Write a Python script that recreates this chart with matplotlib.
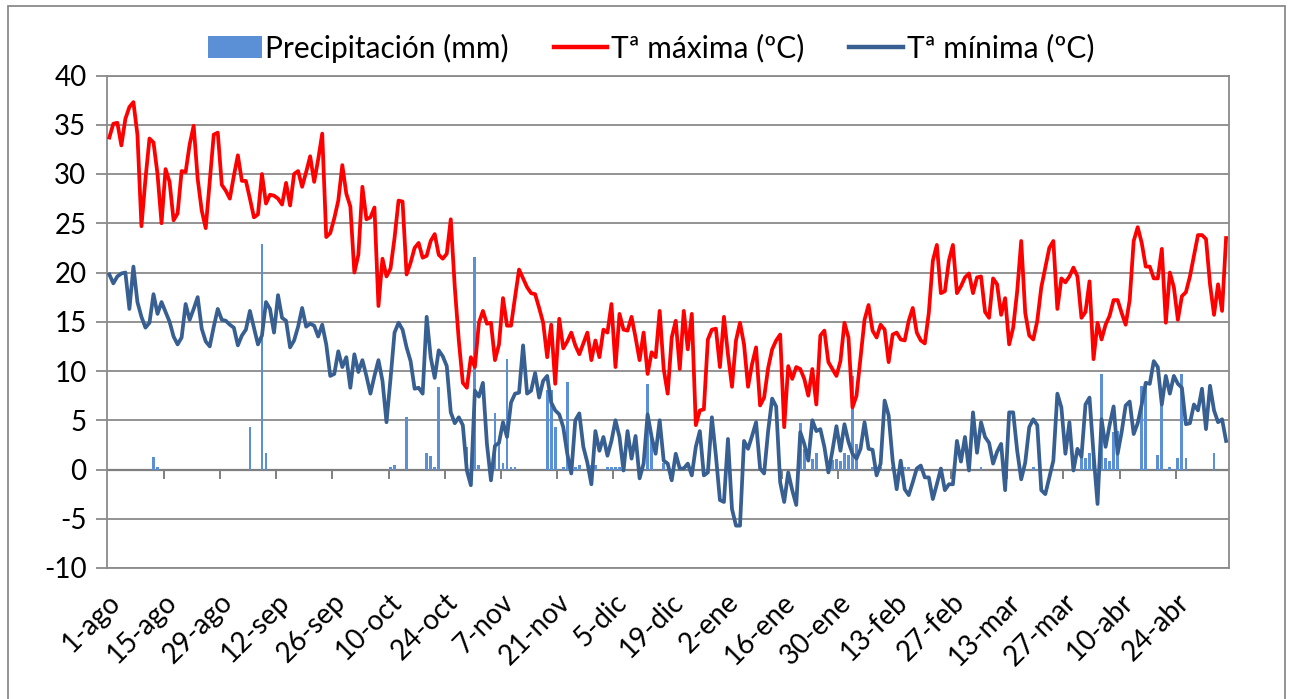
import matplotlib
matplotlib.use("Agg")
import matplotlib.pyplot as plt
import matplotlib.transforms as mtransforms
from matplotlib.patches import Rectangle, Patch
from matplotlib.lines import Line2D
import numpy as np

plt.rcParams['font.family'] = ['Lato', 'DejaVu Sans']

# Daily maximum temperature (ºC), 1-ago ... (279 days)
tmax = [
    33.7, 35.1, 35.2, 32.9, 35.6, 36.8, 37.3, 34.0, 24.7, 29.5,
    33.6, 33.2, 30.0, 25.0, 30.5, 29.2, 25.3, 26.0, 30.3, 30.2,
    33.0, 34.9, 29.5, 26.3, 24.5, 29.2, 34.0, 34.2, 28.9, 28.3,
    27.5, 29.8, 31.9, 29.3, 29.3, 27.5, 25.6, 25.9, 30.0, 27.0,
    27.9, 27.8, 27.5, 26.9, 29.1, 26.8, 30.0, 30.3, 28.7, 30.2,
    31.8, 29.2, 31.5, 34.1, 23.6, 24.0, 25.5, 27.3, 30.9, 28.0,
    26.7, 20.0, 21.8, 28.7, 25.4, 25.6, 26.6, 16.6, 21.4, 19.6,
    20.4, 23.5, 27.3, 27.2, 19.8, 21.0, 22.5, 23.0, 21.5, 21.7,
    23.2, 23.9, 21.8, 21.4, 21.9, 25.4, 18.5, 13.1, 8.8, 8.3,
    11.4, 10.4, 14.9, 16.1, 14.8, 14.9, 11.1, 12.7, 17.4, 14.6,
    14.6, 17.5, 20.3, 19.4, 18.5, 17.9, 17.8, 16.4, 14.9, 11.4,
    14.7, 8.7, 15.3, 12.3, 13.0, 13.9, 12.6, 11.7, 12.8, 13.9,
    11.1, 13.1, 11.4, 14.2, 13.9, 16.8, 10.4, 15.8, 14.2, 14.1,
    15.5, 13.4, 11.1, 13.9, 9.7, 11.9, 11.4, 16.1, 10.2, 7.7,
    13.4, 15.1, 10.2, 16.1, 12.2, 15.8, 4.5, 6.0, 6.1, 13.2,
    14.2, 14.3, 10.4, 15.5, 11.7, 8.4, 13.1, 14.9, 12.7, 8.4,
    10.7, 12.4, 6.5, 7.3, 10.3, 12.2, 13.1, 13.7, 4.3, 10.5,
    9.2, 10.4, 10.2, 9.2, 7.5, 10.2, 6.6, 13.6, 14.1, 10.9,
    10.2, 9.5, 11.0, 14.9, 13.4, 6.3, 7.5, 11.4, 15.2, 16.7,
    14.1, 13.4, 14.7, 14.2, 10.9, 13.7, 13.9, 13.2, 13.1, 15.1,
    16.4, 13.9, 13.1, 12.8, 15.9, 21.2, 22.8, 17.9, 18.1, 21.2,
    22.8, 17.9, 18.6, 19.5, 19.9, 17.9, 19.5, 19.6, 16.0, 15.4,
    19.4, 18.8, 15.7, 17.4, 12.7, 14.4, 18.1, 23.2, 15.9, 13.6,
    13.2, 15.1, 18.5, 20.5, 22.5, 23.2, 16.3, 19.4, 19.0, 19.6,
    20.5, 19.6, 15.4, 16.0, 19.1, 11.2, 14.9, 13.2, 14.7, 15.6,
    17.2, 17.2, 15.9, 14.7, 17.2, 23.2, 24.6, 23.0, 20.6, 20.6,
    19.4, 19.4, 22.4, 14.9, 20.0, 18.5, 15.2, 17.6, 18.0, 19.6,
    21.7, 23.8, 23.8, 23.4, 18.8, 15.7, 18.8, 16.1, 23.5,
]

# Daily minimum temperature (ºC)
tmin = [
    19.8, 18.9, 19.6, 19.9, 20.0, 16.3, 20.6, 17.0, 15.5, 14.4,
    14.9, 17.8, 15.8, 17.0, 16.0, 15.0, 13.5, 12.7, 13.4, 16.8,
    15.2, 16.3, 17.5, 14.3, 13.0, 12.5, 14.5, 16.3, 15.2, 15.1,
    14.7, 14.4, 12.6, 13.6, 14.2, 16.1, 14.4, 12.7, 13.6, 17.0,
    16.3, 13.9, 17.7, 15.4, 15.1, 12.4, 13.1, 14.5, 16.4, 14.5,
    14.8, 14.6, 13.5, 14.7, 12.7, 9.5, 9.7, 12.0, 10.4, 11.4,
    8.3, 11.7, 9.9, 11.1, 9.5, 7.7, 9.5, 11.1, 9.0, 4.8,
    9.2, 13.9, 14.9, 14.2, 12.4, 11.0, 8.2, 8.3, 7.7, 15.5,
    11.4, 9.3, 12.1, 11.5, 10.5, 5.8, 4.7, 5.3, 4.5, -0.1,
    -1.6, 8.0, 7.4, 8.8, 2.6, -1.1, 2.4, 2.7, 4.8, 3.3,
    6.8, 7.7, 7.8, 12.6, 7.7, 8.0, 9.8, 7.3, 9.0, 9.5,
    6.8, 6.0, 5.6, 4.3, 1.6, -0.4, 5.0, 5.7, 2.3, 0.7,
    -1.5, 3.9, 1.9, 3.3, 1.4, 2.9, 5.0, 3.3, -0.1, 3.9,
    1.1, 3.4, -0.9, 0.6, 5.6, 3.3, 1.6, 5.0, 0.9, 0.6,
    -1.1, 1.6, 0.1, 0.1, 0.6, -0.6, 2.3, 3.9, -0.6, -0.3,
    5.3, 1.4, -3.1, -3.3, 3.1, -4.0, -5.7, -5.7, 2.9, 2.1,
    3.4, 4.8, 0.1, -0.4, 3.9, 7.2, 6.4, -1.3, -3.3, -0.3,
    -2.1, -3.6, 3.8, 2.6, 0.9, 5.0, 3.9, 4.1, 2.3, -0.3,
    1.9, 4.4, 1.9, 4.6, 2.8, 1.6, 1.1, 2.1, 4.8, 2.1,
    2.0, -0.6, 0.6, 7.0, 5.5, 0.9, -2.0, 0.9, -2.0, -2.6,
    -1.3, 0.1, 0.4, -0.8, -0.8, -3.0, -1.5, 0.1, -2.1, -1.5,
    -1.5, 2.9, 0.8, 3.3, -0.1, 5.8, 1.7, 4.8, 3.3, 2.7,
    0.6, 1.8, 2.6, -2.1, 5.8, 5.8, 1.9, -1.0, 0.7, 4.3,
    5.1, 4.5, -2.1, -2.5, -0.8, 0.9, 7.7, 6.3, 1.6, 4.8,
    -0.1, 2.1, 1.3, 6.6, 7.3, 1.6, -3.5, 5.1, 2.3, 4.5,
    6.4, 1.6, 3.8, 6.5, 6.9, 3.6, 4.7, 6.6, 8.8, 8.7,
    11.0, 10.4, 6.6, 9.5, 7.7, 9.5, 8.7, 8.3, 4.6, 4.7,
    6.6, 6.0, 8.2, 4.1, 8.5, 6.0, 4.8, 5.1, 2.9,
]

# Precipitation (mm): day index (0 = 1-ago) and amount
rain_day = [11, 12, 35, 38, 39, 70, 71, 74, 79, 80, 81, 82, 89, 91, 92, 96, 97, 98, 99,
            100, 101, 109, 110, 111, 113, 114, 115, 116, 117, 120, 121, 124, 125, 126,
            127, 128, 134, 135, 138, 172, 173, 175, 176, 180, 181, 182, 183, 184, 185,
            186, 190, 191, 192, 195, 198, 199, 217, 230, 242, 243, 244, 245, 247, 248,
            249, 250, 251, 257, 258, 261, 262, 264, 266, 267, 268, 275]
rain_mm = [1.3, 0.3, 4.3, 22.9, 1.7, 0.3, 0.5, 5.3, 1.7, 1.4, 0.3, 8.4, 2.3, 21.6, 0.5,
           5.7, 2.6, 0.7, 11.2, 0.3, 0.3, 8.1, 8.1, 4.3, 0.3, 8.9, 0.3, 0.3, 0.5, 0.5,
           0.5, 0.3, 0.3, 0.3, 0.3, 0.3, 8.7, 3.6, 0.7, 4.7, 2.1, 1.1, 1.7, 1.0, 1.1,
           0.9, 1.7, 1.5, 9.5, 2.6, 0.3, 0.3, 0.3, 0.3, 0.3, 0.3, 0.3, 0.3, 1.7, 1.2,
           1.7, 1.5, 9.7, 1.2, 0.9, 3.8, 3.9, 8.5, 8.5, 1.5, 6.6, 0.3, 1.2, 9.7, 1.2, 1.7]

tick_labels = ['1-ago', '15-ago', '29-ago', '12-sep', '26-sep', '10-oct', '24-oct',
               '7-nov', '21-nov', '5-dic', '19-dic', '2-ene', '16-ene', '30-ene',
               '13-feb', '27-feb', '13-mar', '27-mar', '10-abr', '24-abr']
tick_step_days = 14

yticks = list(range(-10, 41, 5))

# ---- figure ----
W, H = 1289, 699
fig = plt.figure(figsize=(W / 100, H / 100), dpi=100)
left, right, top, bottom = 107.3, 1229.3, 75.5, 568.0
ax = fig.add_axes([left / W, 1 - bottom / H, (right - left) / W, (bottom - top) / H])

grid_c = '#8a8a8a'
n = len(tmax)
x = np.arange(n) + 0.5
ax.bar(np.asarray(rain_day) + 0.5, rain_mm, width=0.7, color='#5b8fd6', zorder=2,
       linewidth=0)
ax.plot(x, tmax, color='#ff0000', lw=2.7, zorder=4, solid_joinstyle='round')
ax.plot(x, tmin, color='#375f91', lw=2.7, zorder=3, solid_joinstyle='round')

ax.set_xlim(0, 279.3)
ax.set_ylim(-10, 40)
ax.set_yticks(yticks)
ax.set_yticklabels([str(v) for v in yticks])
for v in yticks:
    if v != 0:
        ax.axhline(v, color=grid_c, lw=1.3, zorder=1)
ax.axhline(0, color='#7f7f7f', lw=1.6, zorder=1.5)

tick_pos = [i * tick_step_days for i in range(len(tick_labels))]
ax.vlines(tick_pos[1:], -0.95, 0, color='#7f7f7f', lw=1.4, zorder=1.5)

ax.set_xticks(tick_pos)
ax.set_xticklabels(tick_labels, rotation=45, ha='right', va='top',
                   rotation_mode='anchor', fontsize=20)
offset = mtransforms.ScaledTranslation(-4 / 100, 0, fig.dpi_scale_trans)
for lab in ax.get_xticklabels():
    lab.set_transform(lab.get_transform() + offset)
ax.tick_params(axis='x', length=0, pad=15)
ax.tick_params(axis='y', length=8, width=1.3, color=grid_c, pad=7, labelsize=20)

for s in ax.spines.values():
    s.set_color(grid_c)
    s.set_linewidth(1.3)

handles = [Patch(facecolor='#5b8fd6', edgecolor='none'),
           Line2D([], [], color='#ff0000', lw=3.2),
           Line2D([], [], color='#375f91', lw=3.2)]
labels = ['Precipitación (mm)', 'Tª máxima (ºC)', 'Tª mínima (ºC)']
fig.legend(handles, labels, loc='center', bbox_to_anchor=(651 / W, 1 - 48 / H),
           ncol=3, frameon=False, fontsize=21.5, handlelength=1.8, handleheight=0.72,
           handletextpad=0.12, columnspacing=1.5)

fig.add_artist(Rectangle((8 / W, -0.02), (1285 - 8) / W, 1.02 - 6 / H,
                         transform=fig.transFigure, fill=False,
                         edgecolor='#8a8a8a', lw=1.3))

fig.savefig('out.png', dpi=100)
